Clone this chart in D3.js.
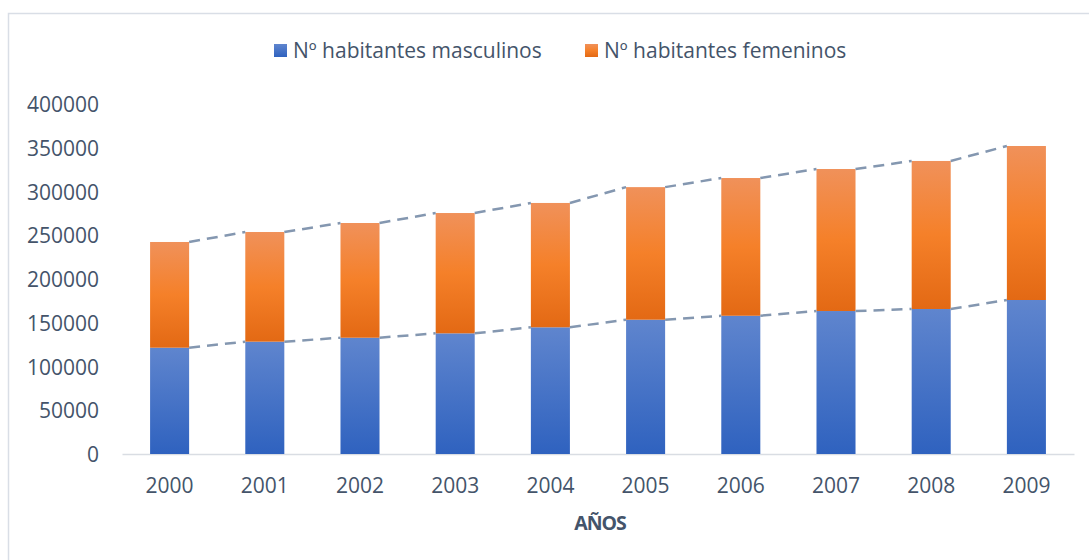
<!DOCTYPE html>
<html>
<head>
<meta charset="utf-8">
<script src="https://cdn.jsdelivr.net/npm/d3@7"></script>
<style>
  html, body { margin: 0; padding: 0; background: #fff; }
  svg { display: block; }
  text { font-family: "Open Sans", sans-serif; fill: #44546a; }
</style>
</head>
<body>
<svg id="chart" width="1089" height="560"></svg>
<script>
const years = ["2000","2001","2002","2003","2004","2005","2006","2007","2008","2009"];
const masculinos = [121500,128400,132900,137900,144800,153500,158000,163400,165700,176000];
const femeninos  = [120800,125300,131100,137500,142100,151500,157400,162300,169200,176000];
const seriesNames = ["Nº habitantes masculinos","Nº habitantes femeninos"];
const yTicks = [0,50000,100000,150000,200000,250000,300000,350000,400000];
const xTitle = "AÑOS";

const svg = d3.select("#chart");
const W = 1089, H = 560;

// chart area border
svg.append("path")
  .attr("d", `M8.5,${H} L8.5,13.5 L${W},13.5`)
  .attr("fill","none").attr("stroke","#d9dee6").attr("stroke-width",1.5);

const defs = svg.append("defs");
const gO = defs.append("linearGradient").attr("id","gOrange").attr("x1",0).attr("y1",0).attr("x2",0).attr("y2",1);
gO.append("stop").attr("offset","0%").attr("stop-color","#f0915a");
gO.append("stop").attr("offset","50%").attr("stop-color","#f58029");
gO.append("stop").attr("offset","100%").attr("stop-color","#e36914");
const gB = defs.append("linearGradient").attr("id","gBlue").attr("x1",0).attr("y1",0).attr("x2",0).attr("y2",1);
gB.append("stop").attr("offset","0%").attr("stop-color","#5f85ce");
gB.append("stop").attr("offset","100%").attr("stop-color","#2f62bf");

const x = d3.scaleBand().domain(years).range([122,1074]).paddingInner(0.59).paddingOuter(0.295);
const y = d3.scaleLinear().domain([0,400000]).range([454,104]);

// y labels
const yAxis = svg.append("g").attr("transform","translate(99,0)")
  .call(d3.axisLeft(y).tickValues(yTicks).tickSize(0).tickPadding(0).tickFormat(d3.format("d")));
yAxis.select(".domain").remove();
yAxis.selectAll("text").style("font-size","21px").attr("fill","#44546a").attr("dy","0.36em");

// x axis
const xAxis = svg.append("g").attr("transform","translate(0,454)")
  .call(d3.axisBottom(x).tickSize(0).tickPadding(0));
xAxis.select(".domain").attr("stroke","#d9dde3").attr("stroke-width",1.5);
xAxis.selectAll("text").style("font-size","21px").attr("fill","#44546a").attr("dy","39px");

// stacked data
const rows = years.map((yr,i)=>({year:yr, m:masculinos[i], f:femeninos[i]}));
const stack = d3.stack().keys(["m","f"])(rows);

stack.forEach((layer,li)=>{
  const g = svg.append("g");
  layer.forEach(d=>{
    const top = y(d[1]), bot = y(d[0]);
    const gid = "grad"+li+d.data.year;
    const base = li===0 ? gB : gO;
    const lg = defs.append("linearGradient").attr("id",gid).attr("gradientUnits","userSpaceOnUse")
      .attr("x1",0).attr("x2",0).attr("y1",top).attr("y2",bot);
    base.selectAll("stop").each(function(){
      lg.append("stop").attr("offset",this.getAttribute("offset")).attr("stop-color",this.getAttribute("stop-color"));
    });
    g.append("rect")
      .attr("x", x(d.data.year)).attr("width", x.bandwidth())
      .attr("y", top).attr("height", bot-top)
      .attr("fill", `url(#${gid})`);
  });
});

// series lines
stack.forEach(layer=>{
  for (let i=0;i<layer.length-1;i++){
    const a = layer[i], b = layer[i+1];
    svg.append("line")
      .attr("x1", x(a.data.year)+x.bandwidth()).attr("y1", y(a[1]))
      .attr("x2", x(b.data.year)).attr("y2", y(b[1]))
      .attr("stroke","#8497b0").attr("stroke-width",2.5)
      .attr("stroke-dasharray","11,7");
  }
});

// x title
svg.append("text").attr("x",600).attr("y",530).attr("text-anchor","middle")
  .style("font-size","19.5px").style("font-weight","700").style("letter-spacing","-1px")
  .attr("fill","#44546a").text(xTitle);

// legend
const legend = svg.append("g");
const legX = [274, 585];
seriesNames.forEach((n,i)=>{
  legend.append("rect").attr("x",legX[i]).attr("y",44).attr("width",13).attr("height",13)
    .attr("fill", i===0 ? "url(#gBlue)" : "url(#gOrange)");
  legend.append("text").attr("x",legX[i]+19).attr("y",58)
    .style("font-size","21px").attr("fill","#44546a").text(n);
});
</script>
</body>
</html>
